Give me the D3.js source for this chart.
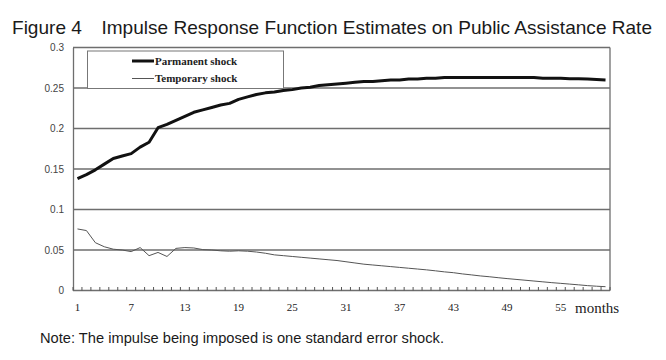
<!DOCTYPE html>
<html><head><meta charset="utf-8">
<script src="https://cdn.jsdelivr.net/npm/d3@7"></script>
<style>body{margin:0;background:#fff}</style>
</head><body>
<svg id="c" width="666" height="360"></svg>
<script>
const months = d3.range(1, 61);
const permanent = [0.138,0.143,0.149,0.156,0.163,0.166,0.169,0.177,0.183,0.201,
0.205,0.210,0.215,0.220,0.223,0.226,0.229,0.231,0.236,0.239,
0.242,0.244,0.245,0.247,0.248,0.250,0.251,0.253,0.254,0.255,
0.256,0.257,0.258,0.258,0.259,0.260,0.260,0.261,0.261,0.262,
0.262,0.263,0.263,0.263,0.263,0.263,0.263,0.263,0.263,0.263,
0.263,0.263,0.262,0.262,0.262,0.2615,0.2615,0.261,0.2605,0.260];
const temporary = [0.076,0.074,0.059,0.054,0.051,0.050,0.048,0.053,0.043,0.047,
0.042,0.052,0.053,0.0525,0.0505,0.050,0.049,0.0485,0.049,0.0485,
0.0475,0.046,0.044,0.043,0.042,0.041,0.040,0.039,0.038,0.037,
0.0355,0.034,0.0325,0.0315,0.0305,0.0295,0.0285,0.0275,0.0265,0.0255,
0.0243,0.023,0.022,0.0205,0.0193,0.018,0.017,0.0158,0.0147,0.0137,
0.0127,0.0117,0.0107,0.0097,0.0088,0.0079,0.007,0.006,0.0053,0.0047];
const xTickLabels = [1,7,13,19,25,31,37,43,49,55];
const yTicks = [0,0.05,0.1,0.15,0.2,0.25,0.3];
const seriesNames = ["Parmanent shock","Temporary shock"];
const title = "Figure 4\u3000Impulse Response Function Estimates on Public Assistance Rate";
const note = "Note: The impulse being imposed is one standard error shock.";
const xUnit = "months";

const svg = d3.select("#c");
const L = 73, R = 610, T = 47.5, B = 290.5;
const x = d3.scaleBand().domain(months).range([L, R]);
const y = d3.scaleLinear().domain([0, 0.3]).range([B, T]);
const cx = m => x(m) + x.bandwidth()/2;

// title
svg.append("text").attr("x", 12).attr("y", 34)
  .attr("font-family", "'Liberation Sans',Arial,sans-serif")
  .attr("font-size", 18.5).attr("fill", "#1a1a1a")
  .attr("textLength", 640).attr("lengthAdjust", "spacingAndGlyphs")
  .text(title);

// gridlines
svg.append("g").selectAll("line").data(yTicks.filter(d => d > 0)).join("line")
  .attr("x1", L).attr("x2", R).attr("y1", d => y(d)).attr("y2", d => y(d))
  .attr("stroke", "#6e6e6e").attr("stroke-width", 1.3);
// right border
svg.append("line").attr("x1", R).attr("x2", R).attr("y1", T).attr("y2", B)
  .attr("stroke", "#6e6e6e").attr("stroke-width", 1.3);

// y axis
const yAxis = d3.axisLeft(y).tickValues(yTicks).tickSize(0).tickPadding(9)
  .tickFormat(d => d === 0 ? "0" : String(+d.toFixed(2)));
const gy = svg.append("g").attr("transform", `translate(${L},0)`).call(yAxis);
gy.select(".domain").attr("stroke", "#6e6e6e").attr("stroke-width", 1.3);
gy.selectAll("text").attr("font-family", "'Liberation Sans',Arial,sans-serif")
  .attr("font-size", 10).attr("fill", "#444");

// x axis
const gx = svg.append("g").attr("transform", `translate(0,${B})`);
gx.append("line").attr("x1", L).attr("x2", R).attr("stroke", "#6e6e6e").attr("stroke-width", 1.3);
gx.selectAll("line.tk").data(d3.range(0, months.length + 1)).join("line").attr("class", "tk")
  .attr("x1", i => L + i * x.step()).attr("x2", i => L + i * x.step())
  .attr("y1", 0).attr("y2", -3.5).attr("stroke", "#555").attr("stroke-width", 1);
gx.selectAll("text.lb").data(xTickLabels).join("text").attr("class", "lb")
  .attr("x", d => cx(d)).attr("y", 20).attr("text-anchor", "middle")
  .attr("font-family", "'Liberation Serif','Times New Roman',serif")
  .attr("font-size", 11).attr("fill", "#222").text(d => d);
gx.append("text").attr("x", 575).attr("y", 22)
  .attr("font-family", "'Liberation Serif','Times New Roman',serif")
  .attr("font-size", 15).attr("fill", "#222").text(xUnit);

// lines
const line = d3.line().x((d, i) => cx(months[i])).y(d => y(d));
svg.append("path").datum(temporary).attr("d", line).attr("fill", "none")
  .attr("stroke", "#555").attr("stroke-width", 1);
svg.append("path").datum(permanent).attr("d", line).attr("fill", "none")
  .attr("stroke", "#111").attr("stroke-width", 3).attr("stroke-linejoin", "round");

// legend
const lg = svg.append("g");
lg.append("rect").attr("x", 87.5).attr("y", 51).attr("width", 196).attr("height", 37.5)
  .attr("fill", "#fff").attr("stroke", "#777").attr("stroke-width", 1);
const lgY = [61, 78.5];
seriesNames.forEach((n, i) => {
  lg.append("line").attr("x1", 132).attr("x2", 154).attr("y1", lgY[i]).attr("y2", lgY[i])
    .attr("stroke", i === 0 ? "#111" : "#555").attr("stroke-width", i === 0 ? 3 : 1);
  lg.append("text").attr("x", 155).attr("y", lgY[i] + 3.5)
    .attr("font-family", "'Liberation Serif','Times New Roman',serif")
    .attr("font-size", 11).attr("font-weight", "bold").attr("fill", "#222").text(n);
});

// note
svg.append("text").attr("x", 40).attr("y", 343)
  .attr("font-family", "'Liberation Sans',Arial,sans-serif")
  .attr("font-size", 14).attr("fill", "#1a1a1a")
  .attr("textLength", 404).attr("lengthAdjust", "spacingAndGlyphs").text(note);
</script>
</body></html>
